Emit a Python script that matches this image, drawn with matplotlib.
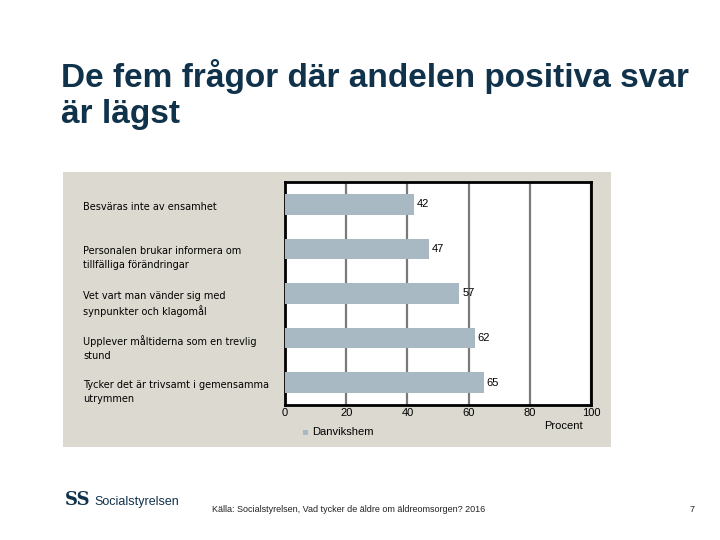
import matplotlib
matplotlib.use("Agg")
import matplotlib.pyplot as plt
from matplotlib.patches import Rectangle
import matplotlib.transforms as mtransforms

categories = [
    "Besväras inte av ensamhet",
    "Personalen brukar informera om\ntillfälliga förändringar",
    "Vet vart man vänder sig med\nsynpunkter och klagomål",
    "Upplever måltiderna som en trevlig\nstund",
    "Tycker det är trivsamt i gemensamma\nutrymmen",
]
values = [42, 47, 57, 62, 65]
xticks = [0, 20, 40, 60, 80, 100]
series_name = "Danvikshem"

W, H = 720, 540
fig = plt.figure(figsize=(7.2, 5.4), dpi=100)
fig.patch.set_facecolor("white")
plt.rcParams['font.family'] = ['Liberation Sans', 'DejaVu Sans']

def fx(px):
    return px / W

def fy(py):
    return 1 - py / H

title_color = "#10324a"
fig.text(fx(61), fy(76), "De fem frågor där andelen positiva svar", fontsize=24,
         fontweight="bold", color=title_color, va="center", ha="left")
fig.text(fx(61), fy(114), "är lägst", fontsize=24, fontweight="bold",
         color=title_color, va="center", ha="left")

# panel background
panel = fig.add_axes([fx(63), fy(447), fx(611) - fx(63), fy(172) - fy(447)])
panel.set_facecolor("#dcdad0")
panel.set_xticks([]); panel.set_yticks([])
for s in panel.spines.values():
    s.set_visible(False)
panel.set_zorder(0)

ax = fig.add_axes([fx(285), fy(405), fx(591) - fx(285), fy(182) - fy(405)])
ax.set_zorder(1)
ax.set_facecolor("white")
bar_color = "#a9b9c3"
ypos = list(range(len(categories)))
ax.barh(ypos, values, height=0.46, color=bar_color, zorder=3)
ax.set_ylim(len(categories) - 0.5, -0.5)
ax.set_xlim(0, 100)
ax.set_xticks(xticks)
ax.set_xticklabels([str(t) for t in xticks], fontsize=8)
ax.tick_params(axis="x", length=0, pad=2)
ax.set_yticks([])
ax.grid(axis="x", color="#7a7a7a", linewidth=1.6, zorder=1)
for s in ax.spines.values():
    s.set_color("black")
    s.set_linewidth(2)

for y, v in zip(ypos, values):
    ax.annotate(str(v), xy=(v, y), xytext=(2, 0), textcoords="offset points",
                fontsize=8, va="center", ha="left")

trans = mtransforms.blended_transform_factory(fig.transFigure, ax.transData)
for y, c in zip(ypos, categories):
    ax.annotate(c, xy=(fx(83), y), xycoords=trans, xytext=(0, 2),
                textcoords="offset points", fontsize=7, va="top", ha="left",
                family="DejaVu Sans", linespacing=1.45, annotation_clip=False)

# legend
fig.patches.append(Rectangle((fx(303), fy(435)), 5 / W, 5 / H, transform=fig.transFigure,
                             facecolor=bar_color, edgecolor="none", zorder=3))
fig.text(fx(312), fy(432), series_name, fontsize=8, va="center", ha="left", zorder=3)
fig.text(fx(563), fy(426), "Procent", fontsize=8, va="center", ha="center", zorder=3)

# footer
fig.text(fx(65), fy(500), "SS", fontsize=13, color=title_color, va="center", ha="left",
         fontweight="bold", family="DejaVu Serif")
fig.text(fx(94), fy(502), "Socialstyrelsen", fontsize=9, color=title_color, va="center", ha="left")
fig.text(fx(212), fy(509), "Källa: Socialstyrelsen, Vad tycker de äldre om äldreomsorgen? 2016",
         fontsize=6.5, color="#222222", va="center", ha="left")
fig.text(fx(692), fy(509), "7", fontsize=6.5, color="#222222", va="center", ha="center")

fig.savefig("out.png", dpi=100, facecolor="white")
